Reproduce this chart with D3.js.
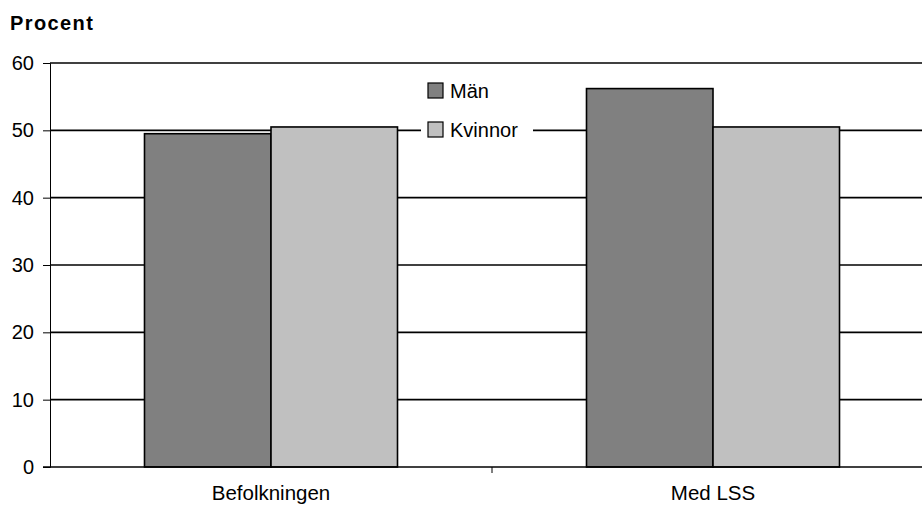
<!DOCTYPE html>
<html>
<head>
<meta charset="utf-8">
<script src="https://cdn.jsdelivr.net/npm/d3@7"></script>
<style>
  html, body { margin: 0; padding: 0; background: #fff; }
  svg { display: block; font-family: Arial, "Liberation Sans", sans-serif; }
</style>
</head>
<body>
<svg id="chart" width="922" height="506"></svg>
<script>
// Andel män och kvinnor, procent
const categories = ["Befolkningen", "Med LSS"];
const seriesNames = ["Män", "Kvinnor"];
const manValues = [49.5, 56.2];
const kvinnorValues = [50.5, 50.5];
const yTicks = [0, 10, 20, 30, 40, 50, 60];
const seriesColors = ["#808080", "#c0c0c0"];

const svg = d3.select("#chart");
const margin = { left: 50, top: 63, bottom: 39 };
const plotRight = 934;
const height = 506;
const font = "Arial, 'Liberation Sans', sans-serif";

const x0 = d3.scaleBand().domain(categories).range([margin.left, plotRight]).paddingInner(0).paddingOuter(0);
const x1 = d3.scaleBand().domain(seriesNames).range([0, x0.bandwidth()]).paddingInner(0).paddingOuter(0.747);
const y = d3.scaleLinear().domain([0, 60]).range([height - margin.bottom, margin.top]);

// Gridlines
svg.append("g")
  .selectAll("line")
  .data(yTicks.filter(d => d > 0))
  .join("line")
  .attr("x1", margin.left).attr("x2", 922)
  .attr("y1", d => y(d)).attr("y2", d => y(d))
  .attr("stroke", "#000").attr("stroke-width", 1.6);

// Y axis
const yAxis = svg.append("g")
  .attr("transform", `translate(${margin.left},0)`)
  .call(d3.axisLeft(y).tickValues(yTicks).tickSize(7).tickPadding(9).tickFormat(d3.format("d")));
yAxis.select(".domain").attr("stroke", "#000").attr("stroke-width", 1);
yAxis.selectAll(".tick line").attr("stroke", "#000");
yAxis.selectAll("text").attr("font-size", 20).attr("fill", "#000").attr("font-family", font);

// Bars
const rows = categories.map((c, i) => ({ cat: c, vals: [manValues[i], kvinnorValues[i]] }));
const groups = svg.append("g").selectAll("g")
  .data(rows).join("g")
  .attr("transform", d => `translate(${x0(d.cat)},0)`);
groups.selectAll("rect")
  .data(d => d.vals.map((v, j) => ({ s: seriesNames[j], v, j })))
  .join("rect")
  .attr("x", d => x1(d.s))
  .attr("width", x1.bandwidth())
  .attr("y", d => y(d.v))
  .attr("height", d => y(0) - y(d.v))
  .attr("fill", d => seriesColors[d.j])
  .attr("stroke", "#000").attr("stroke-width", 1.6);

// X axis
const xAxis = svg.append("g")
  .attr("transform", `translate(0,${y(0)})`)
  .call(d3.axisBottom(x0).tickSize(0).tickPadding(18));
xAxis.select(".domain").remove();
svg.append("line")
  .attr("x1", margin.left - 7).attr("x2", 922)
  .attr("y1", y(0)).attr("y2", y(0))
  .attr("stroke", "#000").attr("stroke-width", 1.6);
// Category separator tick
svg.append("line")
  .attr("x1", x0(categories[1])).attr("x2", x0(categories[1]))
  .attr("y1", y(0)).attr("y2", y(0) + 6)
  .attr("stroke", "#000");
xAxis.selectAll("text").attr("font-size", 20.5).attr("fill", "#000").attr("font-family", font);

// Title
svg.append("text")
  .attr("x", 10).attr("y", 30)
  .attr("font-size", 20).attr("font-weight", "bold")
  .attr("letter-spacing", 1.4)
  .text("Procent");

// Legend
const legend = svg.append("g").attr("transform", "translate(421,72)");
legend.append("rect").attr("x", 0).attr("y", 0).attr("width", 112).attr("height", 74).attr("fill", "#fff");
const items = legend.selectAll("g.item")
  .data(seriesNames).join("g").attr("class", "item")
  .attr("transform", (d, i) => `translate(7,${11 + i * 39})`);
items.append("rect")
  .attr("width", 15).attr("height", 15)
  .attr("fill", (d, i) => seriesColors[i])
  .attr("stroke", "#000").attr("stroke-width", 1.2);
items.append("text")
  .attr("x", 22).attr("y", 15)
  .attr("font-size", 20)
  .text(d => d);
</script>
</body>
</html>
